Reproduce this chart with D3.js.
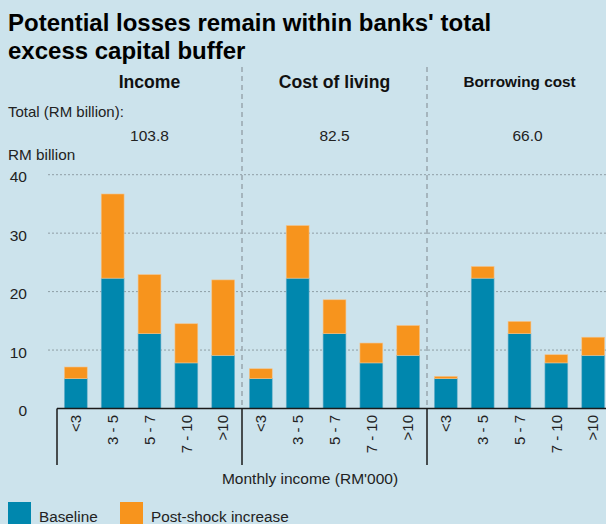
<!DOCTYPE html>
<html>
<head>
<meta charset="utf-8">
<script src="https://cdn.jsdelivr.net/npm/d3@7"></script>
<style>
  html, body { margin: 0; padding: 0; background: #cce3ec; }
  svg { display: block; font-family: "Liberation Sans", Arial, Helvetica, sans-serif; }
</style>
</head>
<body>
<svg id="chart"></svg>
<script>
// data
const categories = ["<3", "3 - 5", "5 - 7", "7 - 10", ">10"];
const panels = ["Income", "Cost of living", "Borrowing cost"];
const panelTotals = ["103.8", "82.5", "66.0"];
const baseline = [5.1, 22.3, 12.8, 7.8, 9.1];
const increaseIncome = [2.0, 14.4, 10.1, 6.7, 12.9];
const increaseCostOfLiving = [1.7, 9.0, 5.8, 3.4, 5.1];
const increaseBorrowing = [0.4, 2.0, 2.1, 1.4, 3.1];
const yTicks = [0, 10, 20, 30, 40];

const increases = [increaseIncome, increaseCostOfLiving, increaseBorrowing];

const W = 606, H = 524;
const colBase = "#0087ae", colInc = "#f7941d";

const svg = d3.select("#chart")
    .attr("width", W)
    .attr("height", H);

svg.append("rect").attr("width", W).attr("height", H).attr("fill", "#cce3ec");

// title
svg.append("text")
    .attr("x", 8).attr("y", 31)
    .attr("font-size", 24).attr("font-weight", "bold").attr("fill", "#000")
    .text("Potential losses remain within banks' total");
svg.append("text")
    .attr("x", 8).attr("y", 59)
    .attr("font-size", 24).attr("font-weight", "bold").attr("fill", "#000")
    .text("excess capital buffer");

// scales
const y = d3.scaleLinear().domain([0, 40]).range([408.5, 174.7]);

const xPanel = d3.scaleBand()
    .domain(panels)
    .range([57, 612])
    .padding(0);

const xCat = d3.scaleBand()
    .domain(categories)
    .range([0, xPanel.bandwidth()])
    .paddingInner(0.38)
    .paddingOuter(0.2);

// gridlines
svg.append("g")
    .selectAll("line")
    .data(yTicks.filter(d => d > 0))
    .enter().append("line")
    .attr("x1", 48).attr("x2", W)
    .attr("y1", d => y(d)).attr("y2", d => y(d))
    .attr("stroke", "#8f9ea5")
    .attr("stroke-width", 1)
    .attr("stroke-dasharray", "2,2");

// y tick labels
svg.append("g")
    .selectAll("text")
    .data(yTicks)
    .enter().append("text")
    .attr("x", 27)
    .attr("y", d => y(d))
    .attr("dy", "0.5em")
    .attr("text-anchor", "end")
    .attr("font-size", 15.5)
    .attr("fill", "#222")
    .text(d => d);

svg.append("text")
    .attr("x", 8).attr("y", 160)
    .attr("font-size", 15.3).attr("fill", "#222")
    .text("RM billion");

svg.append("text")
    .attr("x", 8).attr("y", 117)
    .attr("font-size", 15).attr("fill", "#222")
    .text("Total (RM billion):");

// panel dividers (dashed)
svg.append("g")
    .selectAll("line")
    .data(panels.slice(1))
    .enter().append("line")
    .attr("x1", d => xPanel(d)).attr("x2", d => xPanel(d))
    .attr("y1", 67).attr("y2", 408)
    .attr("stroke", "#98a6ad")
    .attr("stroke-width", 1.5)
    .attr("stroke-dasharray", "5,4");

// panel headers and totals
const heads = svg.append("g").selectAll("g")
    .data(panels)
    .enter().append("g")
    .attr("transform", d => `translate(${xPanel(d) + xPanel.bandwidth() / 2},0)`);

heads.append("text")
    .attr("y", (d, i) => i === 2 ? 87 : 88)
    .attr("text-anchor", "middle")
    .attr("font-size", (d, i) => i === 2 ? 15.3 : 17.6)
    .attr("font-weight", "bold")
    .attr("fill", "#111")
    .text(d => d);

heads.append("text")
    .attr("x", (d, i) => i === 2 ? 8 : 0)
    .attr("y", 141)
    .attr("text-anchor", "middle")
    .attr("font-size", 15.5)
    .attr("fill", "#222")
    .text((d, i) => panelTotals[i]);

// stacked bars
panels.forEach((p, pi) => {
    const rows = categories.map((c, i) => ({ cat: c, base: baseline[i], inc: increases[pi][i] }));
    const g = svg.append("g").attr("transform", `translate(${xPanel(p)},0)`);

    g.selectAll("rect.base")
        .data(rows)
        .enter().append("rect")
        .attr("class", "base")
        .attr("x", d => xCat(d.cat))
        .attr("y", d => y(d.base))
        .attr("width", xCat.bandwidth())
        .attr("height", d => y(0) - y(d.base))
        .attr("fill", colBase)
        .attr("stroke", "#6fb3cc")
        .attr("stroke-width", 0.6);

    g.selectAll("rect.inc")
        .data(rows)
        .enter().append("rect")
        .attr("class", "inc")
        .attr("x", d => xCat(d.cat))
        .attr("y", d => y(d.base + d.inc))
        .attr("width", xCat.bandwidth())
        .attr("height", d => y(d.base) - y(d.base + d.inc))
        .attr("fill", colInc)
        .attr("stroke", "#f3c48e")
        .attr("stroke-width", 0.6);

    // rotated category labels
    g.selectAll("text.cat")
        .data(categories)
        .enter().append("text")
        .attr("class", "cat")
        .attr("transform", d => `translate(${xCat(d) + xCat.bandwidth() / 2},415) rotate(-90)`)
        .attr("dy", "0.35em")
        .attr("text-anchor", "end")
        .attr("font-size", 15)
        .attr("fill", "#222")
        .text(d => d);
});

// x axis: baseline plus panel separators
svg.append("line")
    .attr("x1", 57).attr("x2", W)
    .attr("y1", y(0)).attr("y2", y(0))
    .attr("stroke", "#1a1a1a").attr("stroke-width", 1.5);

svg.append("g")
    .selectAll("line")
    .data(panels)
    .enter().append("line")
    .attr("x1", d => xPanel(d)).attr("x2", d => xPanel(d))
    .attr("y1", y(0)).attr("y2", 465)
    .attr("stroke", "#1a1a1a").attr("stroke-width", 1.5);

svg.append("text")
    .attr("x", 310).attr("y", 484)
    .attr("text-anchor", "middle")
    .attr("font-size", 15.5)
    .attr("fill", "#222")
    .text("Monthly income (RM'000)");

// legend
const legend = [
    { label: "Baseline", color: colBase, x: 8 },
    { label: "Post-shock increase", color: colInc, x: 120 }
];
const lg = svg.append("g").selectAll("g")
    .data(legend)
    .enter().append("g")
    .attr("transform", d => `translate(${d.x},502)`);
lg.append("rect")
    .attr("width", 23).attr("height", 24)
    .attr("fill", d => d.color);
lg.append("text")
    .attr("x", 31).attr("y", 20)
    .attr("font-size", 15.3)
    .attr("fill", "#222")
    .text(d => d.label);
</script>
</body>
</html>
